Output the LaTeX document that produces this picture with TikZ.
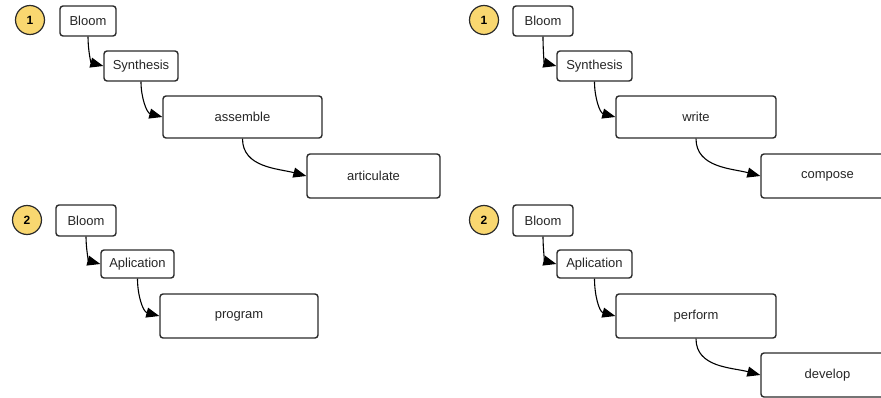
\documentclass[tikz,border=0pt]{standalone}
\usepackage{fontspec}
\setmainfont{Liberation Sans}
\usetikzlibrary{arrows.meta}
\definecolor{numfill}{HTML}{F9D770}
\definecolor{edge}{HTML}{2B2B2B}
\begin{document}
\begin{tikzpicture}[x=1pt,y=-1pt,
  bx/.style={draw=edge,line width=1.4pt,rounded corners=3pt,fill=white,inner sep=0pt,
    font=\fontsize{13}{15}\selectfont,text=black!85},
  num/.style={circle,draw=edge,line width=1.2pt,fill=numfill,minimum size=29pt,inner sep=0pt,
    font=\fontsize{12}{14}\selectfont\bfseries},
  arr/.style={draw=black,line width=1.1pt,-{Triangle[length=13pt,width=10pt]},out=-90,in=165}]
\useasboundingbox (0,0) rectangle (881,398);
\clip (0,0) rectangle (881,398);
% panel 1 left
\node[num] (c1) at (30,20) {1};
\node[bx,minimum width=56pt,minimum height=30pt] (b1) at (88,21) {Bloom};
\node[bx,minimum width=74pt,minimum height=30pt] (s1) at (141,66) {Synthesis};
\node[bx,minimum width=159pt,minimum height=42pt] (a1) at (242.5,117) {assemble};
\node[bx,minimum width=133pt,minimum height=44pt] (r1) at (373.5,176) {articulate};
\draw[arr] (b1.south) to (s1.west);
\draw[arr] (s1.south) to (a1.west);
\draw[arr] (a1.south) to (r1.west);
% panel 1 right
\node[num] (c3) at (484,20) {1};
\node[bx,minimum width=60pt,minimum height=30pt] (b3) at (543,21) {Bloom};
\node[bx,minimum width=75pt,minimum height=30pt] (s3) at (594.5,66) {Synthesis};
\node[bx,minimum width=160pt,minimum height=42pt] (w3) at (696,117) {write};
\node[bx,minimum width=133pt,minimum height=44pt] (k3) at (827.5,176) {compose};
\draw[arr] (b3.south) to (s3.west);
\draw[arr] (s3.south) to (w3.west);
\draw[arr] (w3.south) to (k3.west);
% panel 2 left
\node[num] (c2) at (27,220) {2};
\node[bx,minimum width=60pt,minimum height=31pt] (b2) at (86,220.5) {Bloom};
\node[bx,minimum width=73pt,minimum height=28pt] (p2) at (137.5,264) {Aplication};
\node[bx,minimum width=158pt,minimum height=44pt] (g2) at (239,316) {program};
\draw[arr] (b2.south) to (p2.west);
\draw[arr] (p2.south) to (g2.west);
% panel 2 right
\node[num] (c4) at (484,220) {2};
\node[bx,minimum width=60pt,minimum height=31pt] (b4) at (543,220.5) {Bloom};
\node[bx,minimum width=75pt,minimum height=28pt] (p4) at (594.5,264) {Aplication};
\node[bx,minimum width=160pt,minimum height=44pt] (f4) at (696,316) {perform};
\node[bx,minimum width=133pt,minimum height=44pt] (d4) at (827.5,375) {develop};
\draw[arr] (b4.south) to (p4.west);
\draw[arr] (p4.south) to (f4.west);
\draw[arr] (f4.south) to (d4.west);
\end{tikzpicture}
\end{document}
